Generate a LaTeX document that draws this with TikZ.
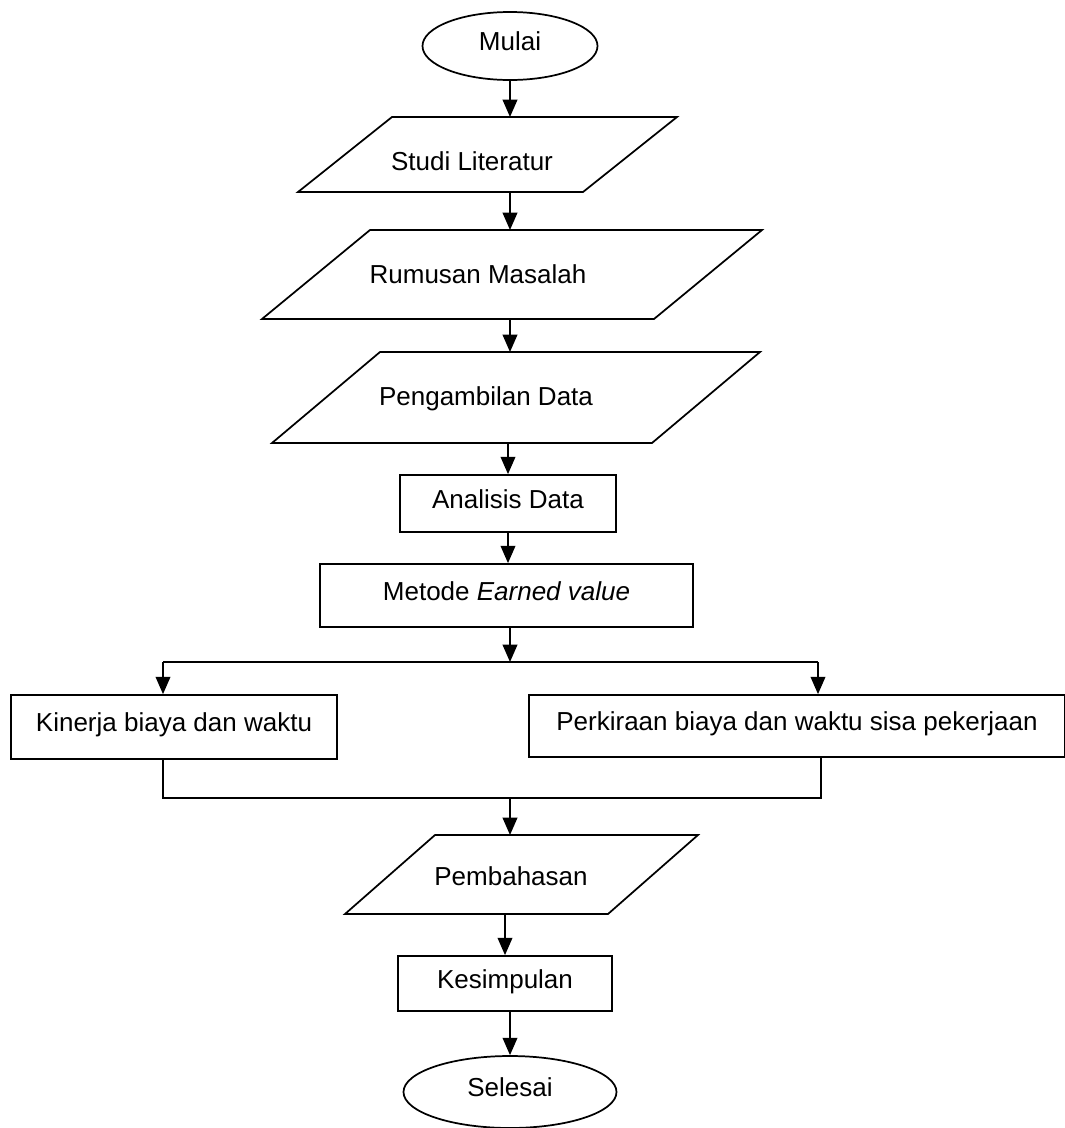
\documentclass[tikz,border=0pt]{standalone}
\usepackage{fontspec}
\setmainfont{Liberation Sans}
\usetikzlibrary{arrows.meta,shapes.geometric}
\newcommand\parashape[2]{\draw[line] (#1.south west) -- ([xshift=#2]#1.north west) -- (#1.north east) -- ([xshift=-#2]#1.south east) -- cycle;}
\begin{document}
\begin{tikzpicture}[x=0.75pt,y=-0.75pt,
  font=\fontsize{19.5}{23}\selectfont,
  line/.style={line width=1.3pt},
  arr/.style={line, -{Triangle[width=11pt,length=13pt]}},
  box/.style={draw, line, rectangle, inner sep=0pt, text height=0.72em, text depth=0pt},
  term/.style={draw, line, ellipse, inner sep=0pt, text height=0.72em, text depth=0pt},
  ghost/.style={rectangle, inner sep=0pt, outer sep=0pt},
  txt/.style={anchor=base, inner sep=0pt}]
\fill[white] (0,0) rectangle (1064,1128);
\useasboundingbox (0,0) rectangle (1064,1128);

% terminals
\node[term, minimum width=131.25pt, minimum height=51pt] (mulai) at (510,46) {Mulai};
\node[term, minimum width=159.75pt, minimum height=54pt] (selesai) at (510,1092) {Selesai};

% parallelograms
\node[ghost, minimum width=284.25pt, minimum height=56.25pt] (studi) at (487.5,154.5) {};
\parashape{studi}{70.5pt}
\node[txt] (tstudi) at (472,170) {Studi Literatur};

\node[ghost, minimum width=375pt, minimum height=66.75pt] (rumusan) at (512,274.5) {};
\parashape{rumusan}{81pt}
\node[txt] (trumusan) at (478,283) {Rumusan Masalah};

\node[ghost, minimum width=366pt, minimum height=68.25pt] (peng) at (516,397.5) {};
\parashape{peng}{81pt}
\node[txt] (tpeng) at (486,405) {Pengambilan Data};

\node[ghost, minimum width=264.75pt, minimum height=59.25pt] (pemb) at (521.5,874.5) {};
\parashape{pemb}{67.5pt}
\node[txt] (tpemb) at (511,885) {Pembahasan};

% process boxes
\node[box, minimum width=162pt, minimum height=42.75pt] (analisis) at (508,503.5) {Analisis Data};
\node[box, minimum width=279.75pt, minimum height=47.25pt] (metode) at (506.5,595.5) {Metode \textit{Earned value}};
\node[box, minimum width=244.5pt, minimum height=48pt] (kinerja) at (174,727) {Kinerja biaya dan waktu};
\node[box, minimum width=402pt, minimum height=46.5pt] (perkiraan) at (797,726) {Perkiraan biaya dan waktu sisa pekerjaan};
\node[box, minimum width=160.5pt, minimum height=41.25pt] (kesimpulan) at (505,983.5) {Kesimpulan};

% helper coordinates
\coordinate (axis) at (510,0);
\coordinate (split) at (510,662);
\coordinate (splitL) at (163,662);
\coordinate (splitR) at (818,662);
\coordinate (join) at (510,798);
\coordinate (joinL) at (163,798);
\coordinate (joinR) at (821,798);

% connectors
\draw[arr] (mulai.south) -- (mulai.south |- studi.north);
\draw[arr] (studi.south -| axis) -- (rumusan.north -| axis);
\draw[arr] (rumusan.south -| axis) -- (peng.north -| axis);
\draw[arr] (peng.south -| analisis.north) -- (analisis.north);
\draw[arr] (analisis.south) -- (analisis.south |- metode.north);
\draw[arr] (metode.south -| split) -- (split);
\draw[line] (splitL) -- (splitR);
\draw[arr] (splitL) -- (splitL |- kinerja.north);
\draw[arr] (splitR) -- (splitR |- perkiraan.north);
\draw[line] (joinL |- kinerja.south) -- (joinL) -- (joinR) -- (joinR |- perkiraan.south);
\draw[arr] (join) -- (join |- pemb.north);
\draw[arr] (pemb.south -| kesimpulan.north) -- (kesimpulan.north);
\draw[arr] (kesimpulan.south -| selesai.north) -- (selesai.north);
\end{tikzpicture}
\end{document}
